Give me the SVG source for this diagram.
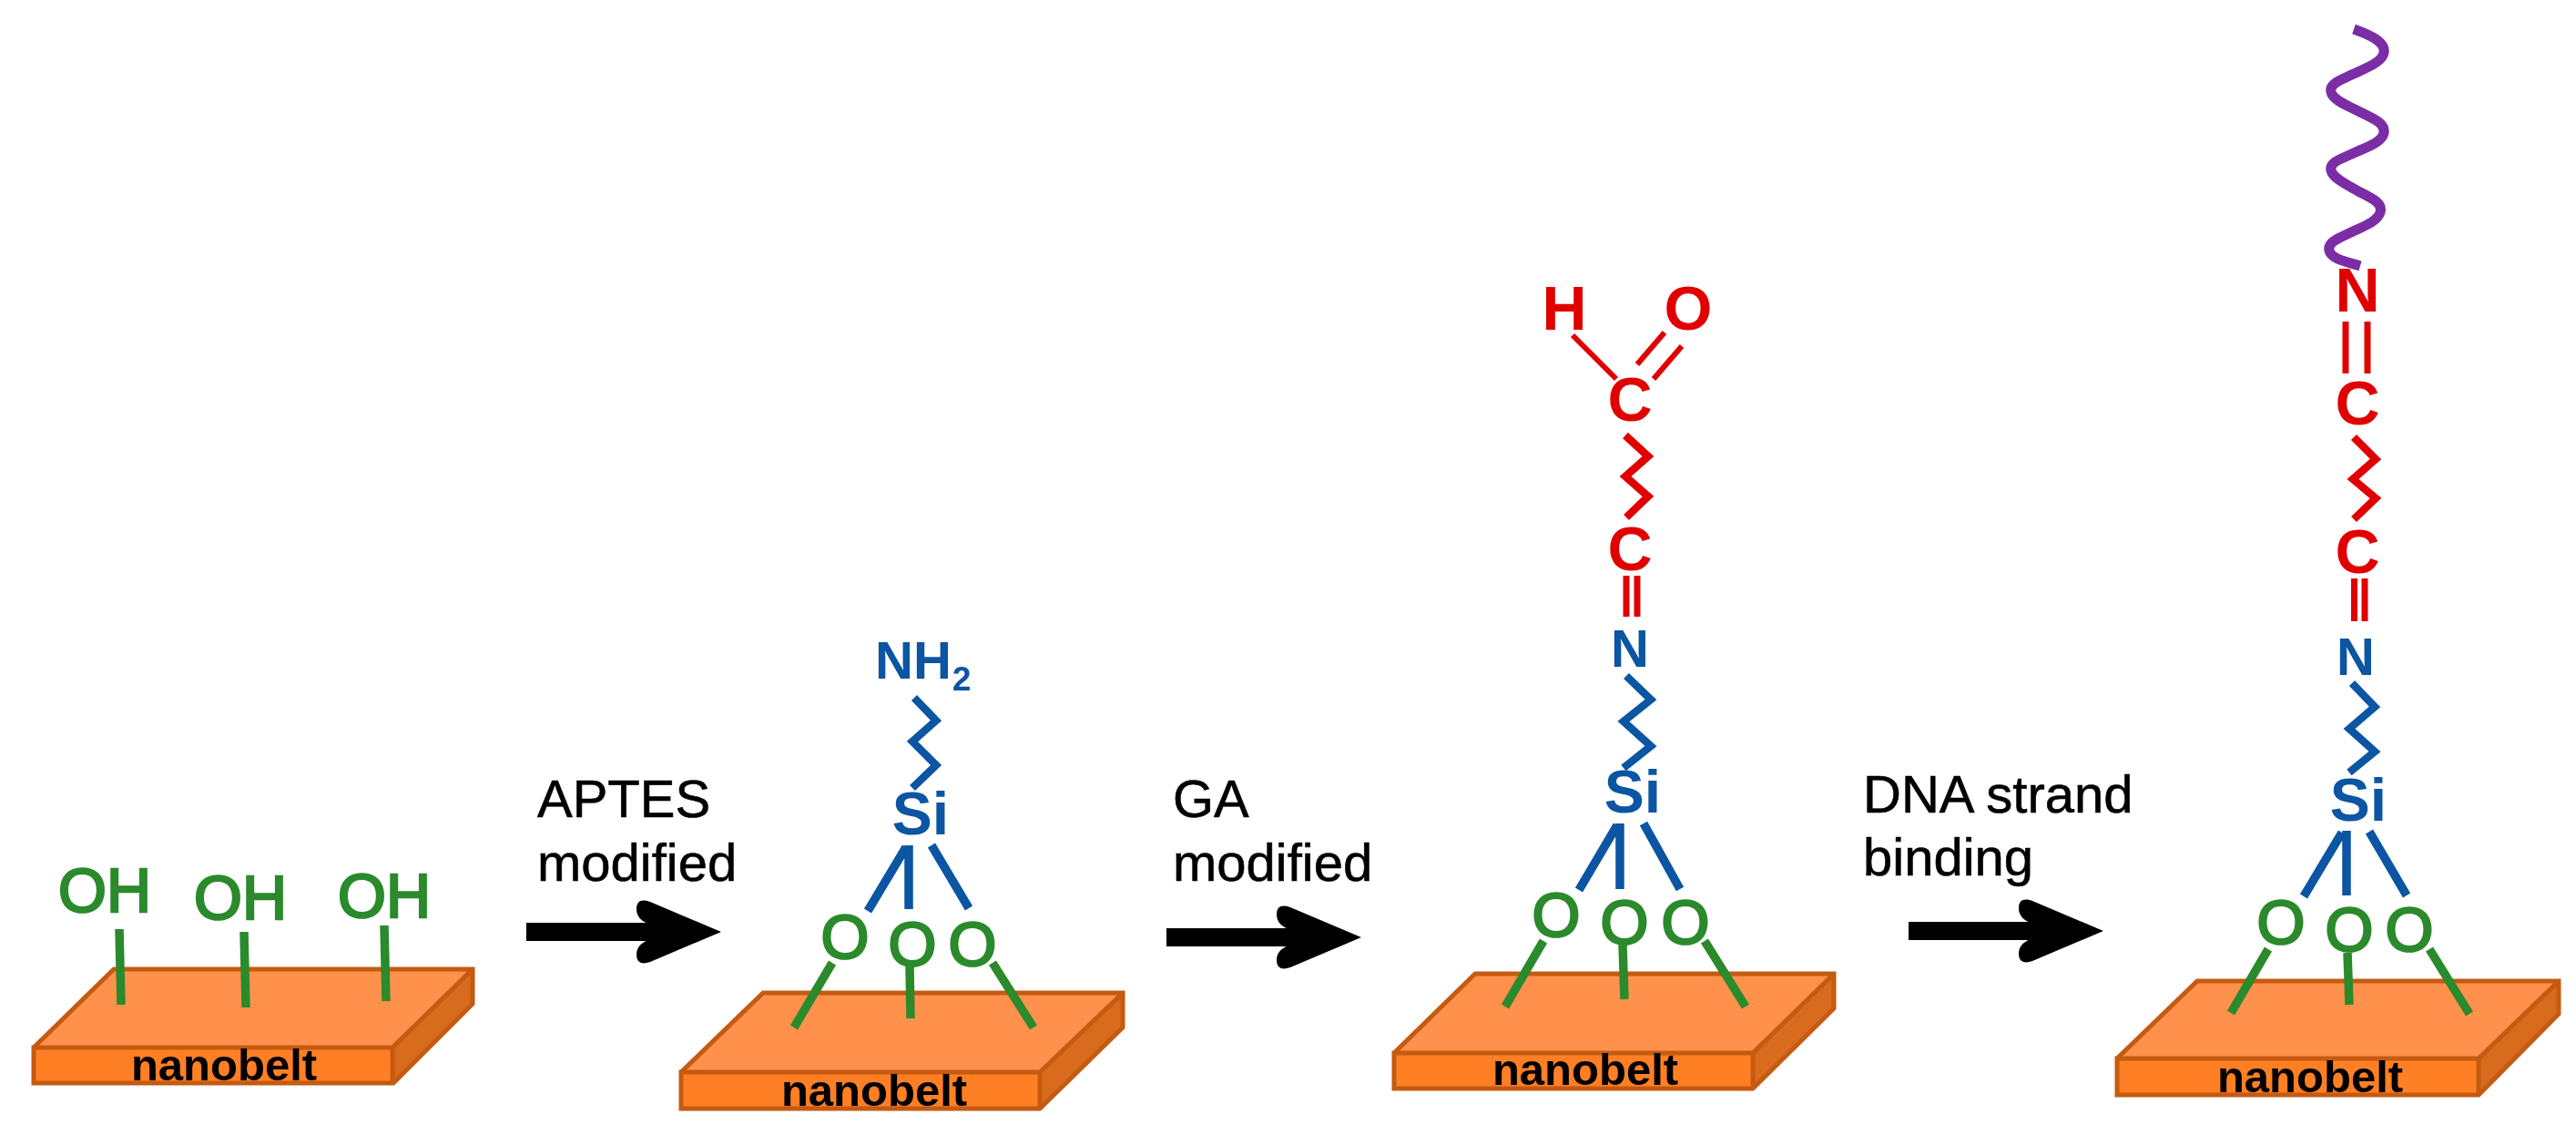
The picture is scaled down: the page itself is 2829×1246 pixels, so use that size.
<svg xmlns="http://www.w3.org/2000/svg" width="2829" height="1246" viewBox="0 0 2829 1246">
<style>
text{font-family:"Liberation Sans",Arial,sans-serif}
.lab{font-size:58px;fill:#000;stroke:#000;stroke-width:.6}
.belt{font-size:49px;font-weight:700;fill:#000;text-anchor:middle}
.g{font-size:68px;fill:#2B8A2B;stroke:#2B8A2B;stroke-width:2.600;text-anchor:middle}
.bt{font-weight:700;fill:#0B55A3;text-anchor:middle}
.r{font-size:68px;font-weight:700;fill:#E00000;text-anchor:middle}
.top{fill:#FF914D}.front{fill:#FF7F24}.side{fill:#D96B1F}
.edge{fill:none;stroke:#C55A11;stroke-width:5;stroke-linejoin:miter}
.gl{fill:none;stroke:#2B8A2B;stroke-width:9.500}
.bl{fill:none;stroke:#0B55A3;stroke-width:9.500}
.bz{fill:none;stroke:#0B55A3;stroke-width:8.500}
.rl{fill:none;stroke:#E00000;stroke-width:6}
.rz{fill:none;stroke:#E00000;stroke-width:8.500}
.rd{fill:none;stroke:#E00000;stroke-width:7}
.dna{fill:none;stroke:#7B2DA6;stroke-width:11}
.arrow{stroke:#000;stroke-width:20;fill:none;marker-end:url(#head)}
</style>
<defs>
<marker id="head" markerUnits="userSpaceOnUse" viewBox="0 -38 94 76" markerWidth="94" markerHeight="76" refX="53" refY="0" orient="auto">
<path d="M94,0 L16,-33 Q1,-38 1,-25 Q1,-14 14,-9 L14,9 Q1,14 1,25 Q1,38 16,33 Z" fill="#000"/>
</marker>
</defs>
<rect width="2829" height="1246" fill="#fff"/>

<g id="node-hydroxylated">
<path class="top" d="M125,1062H519L431,1150H37Z"/><path class="side" d="M519,1062V1102L432,1189V1150Z"/><path class="front" d="M37,1150H431V1189H37Z"/>
<path class="edge" d="M37,1150L125,1064H519V1102L432,1189H37V1150H431L519,1064M431,1150V1189"/>
<text class="belt" x="246" y="1186">nanobelt</text>
<path class="gl" d="M131,1020L133,1103M268,1023L270,1106M422,1016L424,1099"/>
<text class="g" x="115" y="1001">OH</text><text class="g" x="264" y="1009">OH</text><text class="g" x="422" y="1007">OH</text>
</g>

<g id="node-aptes">
<path class="top" d="M838,1088H1233L1142,1177H748Z"/><path class="side" d="M1233,1088V1128L1142,1217V1177Z"/><path class="front" d="M748,1177H1142V1217H748Z"/>
<path class="edge" d="M748,1177L838,1090H1233V1128L1142,1217H748V1177H1142L1233,1090M1142,1177V1217"/>
<text class="belt" x="960" y="1214">nanobelt</text>
<path class="gl" d="M914,1057L872,1128M999,1059L1000,1118M1090,1057L1135,1128"/>
<text class="g" x="928" y="1052">O</text><text class="g" x="1002" y="1060">O</text><text class="g" x="1068" y="1060">O</text>
<path class="bl" d="M953,1000L995,930M998,928V998M1023,928L1064,997"/>
<text class="bt" x="1011" y="916" font-size="66">Si</text>
<path class="bz" d="M1004,766L1028,791L1002,814L1028,840L1002,865"/>
<text class="bt" x="1003" y="745" font-size="58">NH</text><text class="bt" x="1056" y="758" font-size="37">2</text>
</g>

<g id="node-ga">
<path class="top" d="M1620,1067H2014L1925,1156H1531Z"/><path class="side" d="M2014,1067V1107L1925,1195V1156Z"/><path class="front" d="M1531,1156H1925V1195H1531Z"/>
<path class="edge" d="M1531,1156L1620,1069H2014V1107L1925,1195H1531V1156H1925L2014,1069M1925,1156V1195"/>
<text class="belt" x="1741" y="1191">nanobelt</text>
<path class="gl" d="M1695,1033L1653,1105M1782,1037L1784,1097M1872,1033L1917,1105"/>
<text class="g" x="1709" y="1028">O</text><text class="g" x="1784" y="1036">O</text><text class="g" x="1851" y="1036">O</text>
<path class="bl" d="M1734,977L1776,906M1779,904V976M1805,904L1845,976"/>
<text class="bt" x="1793" y="892" font-size="66">Si</text>
<path class="bz" d="M1786,742L1813,768L1783,792L1813,819L1783,843"/>
<text class="bt" x="1790" y="732" font-size="58">N</text>
<path class="rd" d="M1786,632V677M1798,632V677"/>
<text class="r" x="1790" y="626">C</text>
<path class="rz" d="M1785,478L1810,501L1785,523L1810,545L1786,568"/>
<text class="r" x="1790" y="462">C</text>
<path class="rl" d="M1727,368L1775,416M1798,400L1828,365M1816,416L1847,380"/>
<text class="r" x="1718" y="362">H</text><text class="r" x="1854" y="362">O</text>
</g>

<g id="node-dna">
<path class="top" d="M2413,1075H2810L2722,1162H2325Z"/><path class="side" d="M2810,1075V1113L2722,1202V1162Z"/><path class="front" d="M2325,1162H2722V1202H2325Z"/>
<path class="edge" d="M2325,1162L2413,1077H2810V1113L2722,1202H2325V1162H2722L2810,1077M2722,1162V1202"/>
<text class="belt" x="2537" y="1199">nanobelt</text>
<path class="gl" d="M2491,1042L2450,1112M2578,1046L2580,1103M2668,1042L2712,1113"/>
<text class="g" x="2505" y="1036">O</text><text class="g" x="2580" y="1044">O</text><text class="g" x="2646" y="1044">O</text>
<path class="bl" d="M2530,984L2572,914M2577,912V983M2602,913L2643,983"/>
<text class="bt" x="2590" y="901" font-size="66">Si</text>
<path class="bz" d="M2583,750L2608,776L2580,800L2608,825L2580,848"/>
<text class="bt" x="2587" y="741" font-size="58">N</text>
<path class="rd" d="M2585.500,635V682M2597,635V682"/>
<text class="r" x="2589" y="629">C</text>
<path class="rz" d="M2585,480L2609,504L2584,526L2609,547L2585,570"/>
<text class="r" x="2589" y="466">C</text>
<path class="rd" d="M2576,353V410M2600,353V410"/>
<text class="r" x="2589" y="342">N</text>
<path class="dna" d="M2585,32C2608,40 2620,48 2618,58C2616,68 2600,74 2585,81C2570,88 2558,92 2560,101C2562,110 2578,116 2590,122C2606,130 2620,135 2618,146C2616,156 2600,161 2585,168C2570,175 2558,178 2560,187C2562,196 2578,203 2590,210C2606,218 2617,223 2614,233C2611,243 2597,248 2582,255C2567,262 2556,266 2558,275C2560,284 2575,287 2592,292"/>
</g>

<g id="labels">
<text class="lab" x="590" y="897">APTES</text><text class="lab" x="590" y="967">modified</text>
<text class="lab" x="1288" y="897">GA</text><text class="lab" x="1288" y="967">modified</text>
<text class="lab" x="2046" y="892">DNA strand</text><text class="lab" x="2046" y="961">binding</text>
</g>

<g id="connectors">
<line class="arrow" x1="578" y1="1023" x2="751" y2="1023"/>
<line class="arrow" x1="1281" y1="1029" x2="1454" y2="1029"/>
<line class="arrow" x1="2096" y1="1022" x2="2269" y2="1022"/>
</g>
</svg>
